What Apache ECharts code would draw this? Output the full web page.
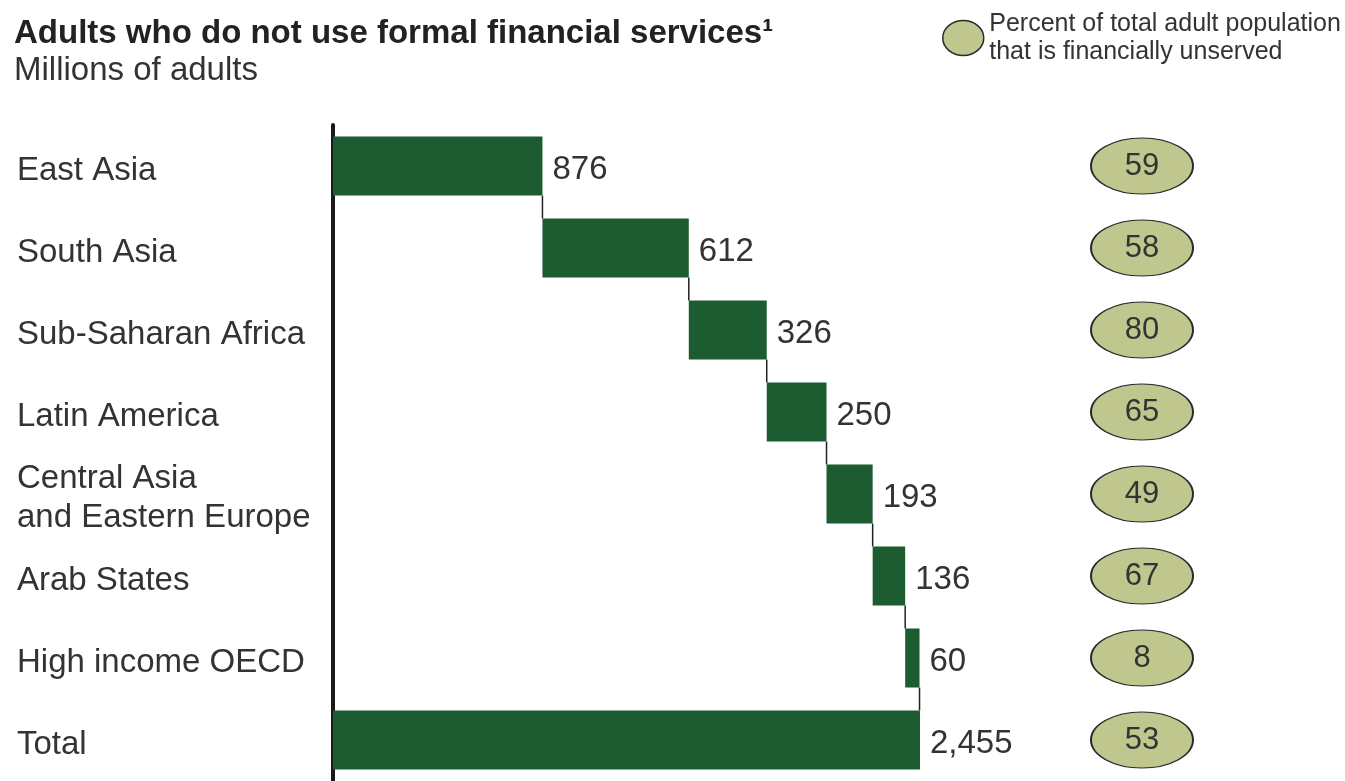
<!DOCTYPE html>
<html>
<head>
<meta charset="utf-8">
<script src="https://cdn.jsdelivr.net/npm/echarts@6/dist/echarts.min.js"></script>
<style>
  html, body { margin: 0; padding: 0; background: #fff; }
  #chart { width: 1345px; height: 781px; }
</style>
</head>
<body>
<div id="chart"></div>
<script>
const regions = ['East Asia', 'South Asia', 'Sub-Saharan Africa', 'Latin America',
  'Central Asia\nand Eastern Europe', 'Arab States', 'High income OECD', 'Total']
const unserved = [876, 612, 326, 250, 193, 136, 60]
const total = 2455
const percentUnserved = [59, 58, 80, 65, 49, 67, 8, 53]
const legendName = 'Percent of total adult population\nthat is financially unserved'

const FONT = "'Liberation Sans', Arial, sans-serif"
const GREEN = '#1c5c30'
const OLIVE = '#c0c78e'
const TEXT = '#333'
const ELLIPSE = 'path://M0,17.5A20.5,17.5 0 1,1 41,17.5A20.5,17.5 0 1,1 0,17.5Z'

// waterfall: invisible base + visible step, total starts from zero
const bases = []
const steps = []
const connectors = []
let run = 0
unserved.forEach((v, i) => {
  bases.push(run)
  steps.push(v)
  run += v
  connectors.push([run, i])
})
bases.push(0)
steps.push(total)

const chart = echarts.init(document.getElementById('chart'))

chart.setOption({
  animation: false,
  textStyle: { fontFamily: FONT },
  title: {
    text: 'Adults who do not use formal financial services¹',
    subtext: 'Millions of adults',
    left: 9,
    top: 12,
    itemGap: 4,
    textStyle: { fontSize: 33, fontWeight: 'bold', color: '#222', fontFamily: FONT },
    subtextStyle: { fontSize: 33, color: TEXT, fontFamily: FONT }
  },
  legend: {
    left: 937,
    top: 5,
    itemWidth: 42,
    itemHeight: 35,
    selectedMode: false,
    textStyle: { fontSize: 25, lineHeight: 28, color: TEXT, fontFamily: FONT },
    data: [{
      name: legendName,
      icon: ELLIPSE,
      itemStyle: { color: OLIVE, borderColor: '#2a2a2a', borderWidth: 1.5 }
    }]
  },
  grid: [
    { left: 333, top: 125, width: 587, height: 659 },
    { left: 1090, top: 125, width: 104, height: 659 }
  ],
  xAxis: [
    { type: 'value', gridIndex: 0, min: 0, max: total, show: false },
    { type: 'value', gridIndex: 1, min: 0, max: 1, show: false }
  ],
  yAxis: [
    {
      type: 'category',
      gridIndex: 0,
      data: regions,
      inverse: true,
      axisLine: { show: true, lineStyle: { color: '#1a1a1a', width: 4 } },
      axisTick: { show: false },
      axisLabel: {
        align: 'left',
        margin: 316,
        color: TEXT,
        fontFamily: FONT,
        formatter: v => v.split('\n').map(s => '{r|' + s + '}').join('\n'),
        rich: {
          r: { fontSize: 33, lineHeight: 39, padding: [9, 0, 0, 0], color: TEXT, fontFamily: FONT }
        }
      }
    },
    { type: 'category', gridIndex: 1, data: regions, inverse: true, show: false }
  ],
  series: [
    {
      type: 'bar',
      stack: 'wf',
      data: bases,
      barWidth: '72%',
      itemStyle: { color: 'transparent' },
      silent: true
    },
    {
      type: 'bar',
      stack: 'wf',
      data: steps,
      barWidth: '72%',
      itemStyle: { color: GREEN },
      label: {
        show: true,
        position: 'right',
        distance: 10,
        offset: [0, 4],
        fontSize: 33,
        color: TEXT,
        fontFamily: FONT,
        formatter: p => p.value.toLocaleString('en-US')
      }
    },
    {
      type: 'custom',
      data: connectors,
      silent: true,
      renderItem: (params, api) => {
        const pt = api.coord([api.value(0), api.value(1)])
        const band = api.size([0, 1])[1]
        const half = band * 0.36
        return {
          type: 'line',
          shape: { x1: pt[0], y1: pt[1] + half, x2: pt[0], y2: pt[1] + band - half },
          style: { stroke: '#222', lineWidth: 1.5 }
        }
      }
    },
    {
      name: legendName,
      type: 'scatter',
      xAxisIndex: 1,
      yAxisIndex: 1,
      symbol: 'circle',
      symbolSize: [102, 56],
      data: percentUnserved.map((v, i) => [0.5, i, v]),
      itemStyle: { color: OLIVE, borderColor: '#2a2a2a', borderWidth: 1.5, opacity: 1 },
      label: {
        show: true,
        position: 'inside',
        fontSize: 31,
        color: TEXT,
        fontFamily: FONT,
        formatter: p => p.value[2]
      }
    }
  ]
})
</script>
</body>
</html>
